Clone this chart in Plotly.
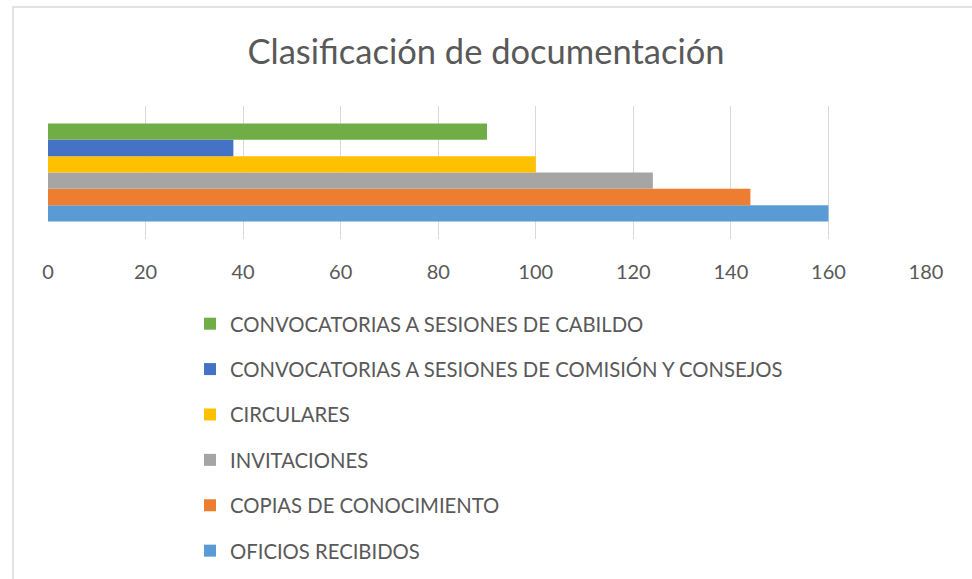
import plotly.graph_objects as go

series_names = [
    "OFICIOS RECIBIDOS",
    "COPIAS DE CONOCIMIENTO",
    "INVITACIONES",
    "CIRCULARES",
    "CONVOCATORIAS A SESIONES DE COMISIÓN Y CONSEJOS",
    "CONVOCATORIAS A SESIONES DE CABILDO",
]
series_values = [160, 144, 124, 100, 38, 90]
series_colors = ["#5B9BD5", "#ED7D31", "#A5A5A5", "#FFC000", "#4472C4", "#70AD47"]
category = ["Documentación"]
x_ticks = [0, 20, 40, 60, 80, 100, 120, 140, 160, 180]

FONT = "Lato, 'Open Sans', sans-serif"
W, H = 972, 579
L, R, T, B = 48, 46, 106, 340
pw, ph = W - L - R, H - T - B

fig = go.Figure()
n = len(series_names)
for i, (name, val, col) in enumerate(zip(series_names, series_values, series_colors)):
    fig.add_trace(go.Bar(
        y=category, x=[val], name=name, orientation="h",
        marker=dict(color=col, line=dict(width=0)),
        legendgroup=f"g{i}", legendrank=n - i,
    ))

def px_x(px):
    return (px - L) / pw

def px_y(py):
    return 1 - (py - T) / ph

fig.update_layout(
    width=W, height=H,
    margin=dict(l=L, r=R, t=T, b=B, autoexpand=False),
    paper_bgcolor="white", plot_bgcolor="white",
    barmode="group", bargap=0.263, bargroupgap=0,
    title=dict(text="Clasificación de documentación", x=0.5, xanchor="center",
               y=1 - 52 / H, yanchor="middle",
               font=dict(family=FONT, size=34.5, color="#595959")),
    xaxis=dict(range=[0, 180], tickvals=x_ticks, showgrid=True, gridcolor="#D9D9D9",
               gridwidth=1, zeroline=False, showline=False, ticks="",
               tickfont=dict(family=FONT, size=20, color="#595959"), ticklabelstandoff=19),
    yaxis=dict(showticklabels=False, showgrid=False, zeroline=False, showline=False),
    showlegend=True,
    legend=dict(traceorder="grouped", tracegroupgap=16,
                xref="container", yref="container",
                x=190 / W, xanchor="left", y=1 - 304 / H, yanchor="top",
                font=dict(family=FONT, size=20.3, color="#595959"),
                bgcolor="rgba(0,0,0,0)", itemwidth=30),
    shapes=[dict(type="rect", xref="paper", yref="paper",
                 x0=px_x(13), x1=px_x(990), y0=px_y(600), y1=px_y(7),
                 line=dict(color="#D9D9D9", width=1.5), fillcolor="rgba(0,0,0,0)",
                 layer="below")],
)

fig.write_html("out.html", config={"displayModeBar": False},
               post_script="document.body.style.margin='0';")
